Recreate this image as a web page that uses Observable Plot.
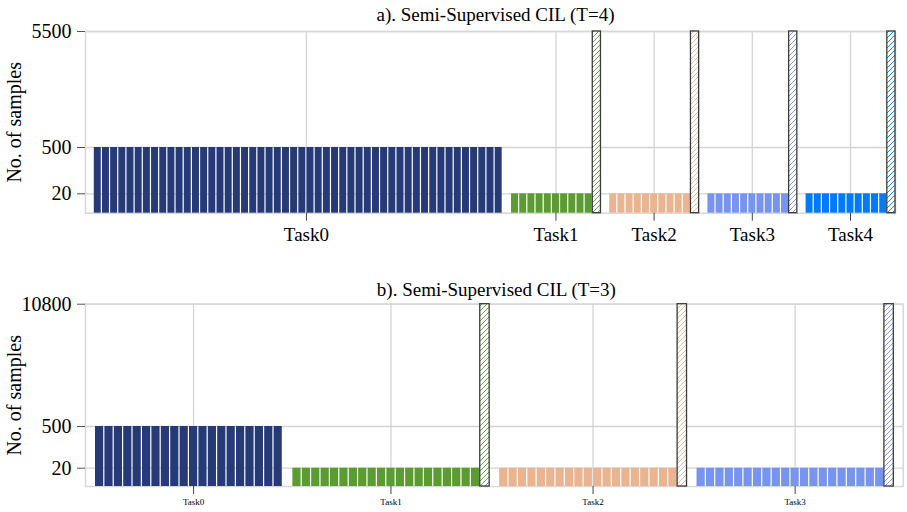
<!DOCTYPE html>
<html><head><meta charset="utf-8">
<script src="https://cdn.jsdelivr.net/npm/d3@7"></script>
<script src="https://cdn.jsdelivr.net/npm/@observablehq/plot@0.6"></script>
<style>
body{margin:0;background:#fff;font-family:"Liberation Serif",serif;}
#c svg{display:block;}
#c svg, #c svg text{font-family:"Liberation Serif","Times New Roman",serif !important;}
</style>
</head><body>
<svg id="defs" width="0" height="0" style="position:absolute"><defs id="pdefs"></defs></svg>
<div id="c"></div>
<script>
// ---- Data: panel a (T=4)
const titleA = "a). Semi-Supervised CIL (T=4)";
const tasksA = ["Task0","Task1","Task2","Task3","Task4"];
const classesA = [50,10,10,10,10];
const perClassA = [500,20,20,20,20];
const unlabeledA = [0,5500,5500,5500,5500];
const tickPosA = [27,57.5,69.5,81.5,93.5];
const yTicksA = [20,500,5500];

// ---- Data: panel b (T=3)
const titleB = "b). Semi-Supervised CIL (T=3)";
const tasksB = ["Task0","Task1","Task2","Task3"];
const classesB = [20,20,19,20];
const perClassB = [500,20,20,20];
const unlabeledB = [0,10800,10800,10800];
const tickPosB = [11.5,32.5,54,75.5];
const yTicksB = [20,500,10800];

// ---- Style
const taskColors = ["#263a78","#5a9b32","#ebb491","#7694f0","#007aff"];

// hatch patterns
const defs = document.getElementById("pdefs");
taskColors.forEach((c,i)=>{
  const ns="http://www.w3.org/2000/svg";
  const p=document.createElementNS(ns,"pattern");
  p.setAttribute("id","hatch"+i);p.setAttribute("patternUnits","userSpaceOnUse");
  p.setAttribute("width","5");p.setAttribute("height","5");
  const r=document.createElementNS(ns,"rect");r.setAttribute("width","5");r.setAttribute("height","5");r.setAttribute("fill","#fff");
  const l=document.createElementNS(ns,"path");
  l.setAttribute("d","M-1,1 L1,-1 M0,5 L5,0 M4,6 L6,4");
  l.setAttribute("stroke",c);l.setAttribute("stroke-width","0.9");
  p.appendChild(r);p.appendChild(l);defs.appendChild(p);
});

function buildRows(classes, perClass, unlabeled){
  const bars=[], hatched=[];
  let cur=1;
  classes.forEach((n,i)=>{
    for(let k=0;k<n;k++){bars.push({x1:cur,x2:cur+1,y:perClass[i],fill:taskColors[i]});cur++;}
    if(unlabeled[i]>0){hatched.push({x1:cur,x2:cur+1,y:unlabeled[i],fill:`url(#hatch${i})`});cur++;}
    cur++;
  });
  return {bars,hatched};
}

function panel({title,tasks,classes,perClass,unlabeled,tickPos,yTicks,xMax,height,mt,mb,mr,yRange,xFont,xTickPad,titleDy,titleDx}){
  const {bars,hatched}=buildRows(classes,perClass,unlabeled);
  const ymax=yTicks[yTicks.length-1];
  return Plot.plot({
    width:907,height,marginLeft:85,marginRight:mr,marginTop:mt,marginBottom:mb,
    style:{fontFamily:"Liberation Serif",background:"#fff",color:"#000"},
    color:{type:"identity"},
    x:{domain:[0,xMax],axis:null},
    y:{type:"linear",domain:[0,yTicks[0],yTicks[1],ymax],range:yRange,axis:null},
    marks:[
      Plot.gridY(yTicks,{stroke:"#d4d4d4",strokeOpacity:1,strokeWidth:1.3}),
      Plot.gridX(tickPos,{stroke:"#d4d4d4",strokeOpacity:1,strokeWidth:1.3}),
      Plot.frame({stroke:"#d8d8d8",strokeWidth:1.5}),
      Plot.rect(bars,{x1:"x1",x2:"x2",y1:0,y2:"y",fill:"fill",insetLeft:0.6,insetRight:0.6}),
      Plot.rect(hatched,{x1:"x1",x2:"x2",y1:0,y2:"y",fill:"fill",stroke:"#3a3a3a",strokeWidth:1.3}),
      Plot.axisY(yTicks,{tickSize:8,tickPadding:6,fontSize:20,stroke:"#555",fill:"#000",tickFormat:d=>String(d),label:null}),
      Plot.axisX(tickPos,{tickSize:8,tickPadding:xTickPad,fontSize:xFont,stroke:"#444",fill:"#000",tickFormat:d=>tasks[tickPos.indexOf(d)],label:null}),
      Plot.text(["No. of samples"],{frameAnchor:"left",textAnchor:"middle",lineAnchor:"middle",rotate:-90,dx:-71,fontSize:20,fill:"#000"}),
      Plot.text([title],{frameAnchor:"top",textAnchor:"middle",lineAnchor:"middle",dy:titleDy,dx:titleDx,fontSize:19,fill:"#000"})
    ]
  });
}

const c=document.getElementById("c");
c.appendChild(panel({title:titleA,tasks:tasksA,classes:classesA,perClass:perClassA,unlabeled:unlabeledA,
  tickPos:tickPosA,yTicks:yTicksA,xMax:99,height:256,mt:31,mb:43.3,mr:12,
  yRange:[212.7,193.3,147,31],xFont:19,xTickPad:6,titleDy:-17,titleDx:5}));
c.appendChild(panel({title:titleB,tasks:tasksB,classes:classesB,perClass:perClassB,unlabeled:unlabeledB,
  tickPos:tickPosB,yTicks:yTicksB,xMax:87,height:256,mt:47.7,mb:26,mr:4.3,
  yRange:[230,211.7,170,47.7],xFont:9,xTickPad:4,titleDy:-14,titleDx:2}));
</script>
</body></html>
